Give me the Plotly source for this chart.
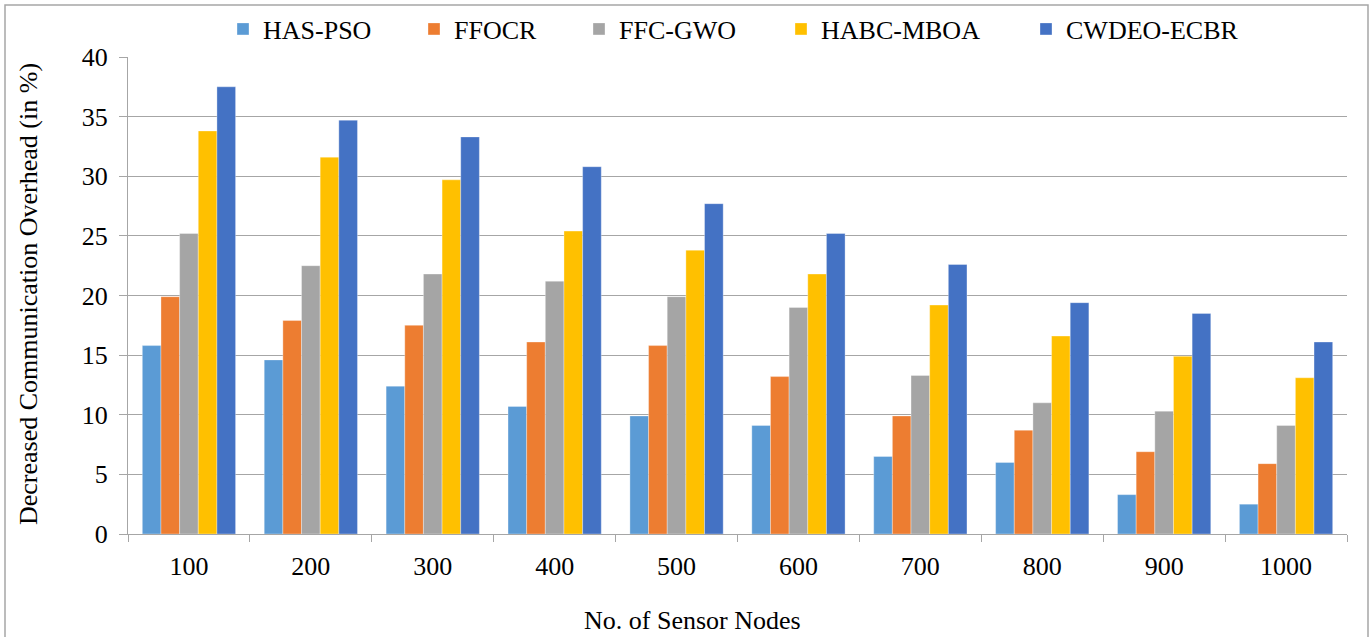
import plotly.graph_objects as go

categories = ["100", "200", "300", "400", "500", "600", "700", "800", "900", "1000"]
series_names = ["HAS-PSO", "FFOCR", "FFC-GWO", "HABC-MBOA", "CWDEO-ECBR"]
has_pso = [15.8, 14.6, 12.4, 10.7, 9.9, 9.1, 6.5, 6.0, 3.3, 2.5]
ffocr = [19.9, 17.9, 17.5, 16.1, 15.8, 13.2, 9.9, 8.7, 6.9, 5.9]
ffc_gwo = [25.2, 22.5, 21.8, 21.2, 19.9, 19.0, 13.3, 11.0, 10.3, 9.1]
habc_mboa = [33.8, 31.6, 29.7, 25.4, 23.8, 21.8, 19.2, 16.6, 14.9, 13.1]
cwdeo_ecbr = [37.5, 34.7, 33.3, 30.8, 27.7, 25.2, 22.6, 19.4, 18.5, 16.1]
y_ticks = [0, 5, 10, 15, 20, 25, 30, 35, 40]

series_values = [has_pso, ffocr, ffc_gwo, habc_mboa, cwdeo_ecbr]
colors = ["#5B9BD5", "#ED7D31", "#A5A5A5", "#FFC000", "#4472C4"]

W, H = 1371, 637
L, R, T, B = 128, 24, 57, 103
pw = W - L - R
ph = H - T - B

def px_x(p):
    return (p - L) / pw

def px_y(p):
    return (H - B - p) / ph

FONT = "Liberation Serif, Times New Roman, serif"
FS = 26

fig = go.Figure()
legend_lefts = [237, 428, 593, 795, 1040]
legend_names = ["legend", "legend2", "legend3", "legend4", "legend5"]
for i, (name, vals, col) in enumerate(zip(series_names, series_values, colors)):
    fig.add_trace(go.Bar(
        x=categories, y=vals, name=name,
        marker=dict(color=col, line=dict(color="rgba(255,255,255,0.55)", width=0.6)),
        legend=legend_names[i],
    ))

layout_legends = {}
for i, ln in enumerate(legend_names):
    layout_legends[ln] = dict(
        x=px_x(legend_lefts[i] - 14), xanchor="left",
        y=px_y(29), yanchor="middle",
        orientation="h",
        font=dict(family=FONT, size=FS, color="black"),
        bgcolor="rgba(0,0,0,0)", borderwidth=0,
    )

grid_col = "#A6A6A6"
fig.update_layout(
    width=W, height=H,
    margin=dict(l=L, r=R, t=T, b=B, pad=0, autoexpand=False),
    paper_bgcolor="white", plot_bgcolor="white",
    barmode="group", bargap=0.235, bargroupgap=0,
    font=dict(family=FONT, size=FS, color="black"),
    xaxis=dict(
        type="category", tickson="boundaries",
        showline=True, linecolor=grid_col, linewidth=1.3,
        ticks="outside", ticklen=7, tickcolor=grid_col, tickwidth=1.3,
        tickfont=dict(family=FONT, size=FS, color="black"),
        showgrid=False, ticklabelstandoff=9,
    ),
    yaxis=dict(
        range=[0, 40], tickvals=y_ticks,
        showline=True, linecolor=grid_col, linewidth=1.3,
        ticks="outside", ticklen=8, tickcolor=grid_col, tickwidth=1.3,
        showgrid=True, gridcolor=grid_col, gridwidth=1.3,
        zeroline=False,
        tickfont=dict(family=FONT, size=FS, color="black"),
        ticklabelstandoff=6,
    ),
    showlegend=True,
    annotations=[
        dict(text="Decreased Communication Overhead (in %)", xref="paper", yref="paper",
             x=px_x(28), y=px_y(294), textangle=-90, showarrow=False,
             xanchor="center", yanchor="middle",
             font=dict(family=FONT, size=FS, color="black")),
        dict(text="No. of Sensor Nodes", xref="paper", yref="paper",
             x=px_x(692), y=px_y(620), showarrow=False,
             xanchor="center", yanchor="middle",
             font=dict(family=FONT, size=FS, color="black")),
    ],
    shapes=[
        dict(type="rect", xref="paper", yref="paper",
             x0=px_x(5), x1=px_x(1368), y0=px_y(660), y1=px_y(5),
             line=dict(color="#A6A6A6", width=1.5), fillcolor="rgba(0,0,0,0)", layer="below"),
    ],
    **layout_legends,
)

fig.write_html("out.html", config={"displayModeBar": False},
               post_script="document.body.style.margin='0';")
